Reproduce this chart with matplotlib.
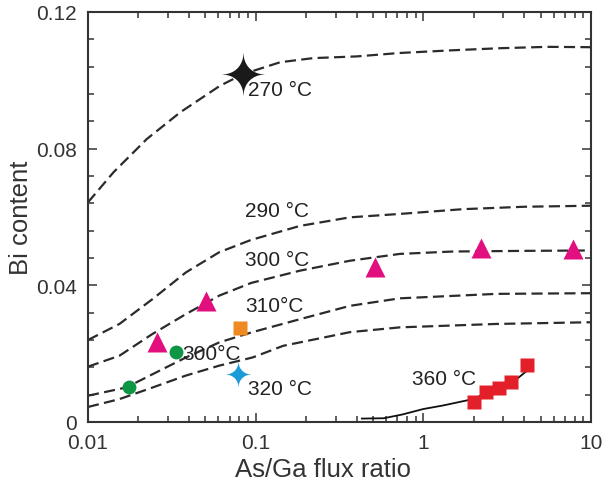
import numpy as np
import matplotlib
matplotlib.use("Agg")
import matplotlib.pyplot as plt
from matplotlib.path import Path
from matplotlib.ticker import AutoMinorLocator, FixedLocator, FixedFormatter

plt.rcParams['font.family'] = ['Liberation Sans', 'DejaVu Sans']

# growth-model curves (Bi content vs As/Ga flux ratio)
x_270 = [0.01, 0.0142, 0.0224, 0.0354, 0.0612, 0.084, 0.14, 0.22, 0.4, 0.72, 1.5, 2.86, 5.5, 10]
y_270 = [0.0643, 0.0731, 0.0828, 0.0906, 0.0984, 0.1018, 0.1053, 0.1065, 0.1070, 0.1080,
         0.1088, 0.1094, 0.1098, 0.1097]

x_290 = [0.01, 0.0154, 0.0243, 0.0384, 0.0607, 0.094, 0.184, 0.365, 0.725, 1.73, 4.0, 10]
y_290 = [0.0240, 0.0287, 0.0360, 0.0438, 0.0497, 0.0533, 0.0574, 0.0599, 0.0609, 0.0623,
         0.0630, 0.0633]

x_300 = [0.01, 0.0154, 0.0243, 0.0384, 0.0607, 0.094, 0.184, 0.365, 0.725, 1.5, 4.3, 10]
y_300 = [0.0162, 0.0194, 0.0258, 0.0316, 0.0370, 0.0407, 0.0443, 0.0472, 0.0492, 0.0499,
         0.0501, 0.0502]

x_310 = [0.01, 0.0169, 0.0243, 0.0384, 0.0607, 0.094, 0.184, 0.365, 0.725, 2.73, 10]
y_310 = [0.0077, 0.0101, 0.0140, 0.0189, 0.0233, 0.0262, 0.0301, 0.0340, 0.0362, 0.0375, 0.0377]

x_320 = [0.01, 0.0154, 0.0243, 0.0384, 0.0607, 0.096, 0.146, 0.365, 0.725, 2.73, 10]
y_320 = [0.0044, 0.0067, 0.0101, 0.0136, 0.0165, 0.0189, 0.0223, 0.0263, 0.0277, 0.0287, 0.0292]

x_360 = [0.43, 0.58, 0.75, 1.0, 1.3, 1.89, 2.35, 2.84, 3.35, 4.2]
y_360 = [0.0010, 0.0011, 0.0022, 0.0038, 0.0048, 0.0065, 0.0082, 0.0095, 0.0113, 0.0152]

# measured samples
tri_x = [0.0257, 0.0506, 0.514, 2.2, 7.84]
tri_y = [0.0233, 0.0355, 0.0453, 0.0508, 0.0506]
green_x = [0.0175, 0.0335]
green_y = [0.0101, 0.0204]
orange_x = [0.0806]
orange_y = [0.0275]
blue_x = [0.0782]
blue_y = [0.0140]
black_x = [0.0843]
black_y = [0.1018]
red_x = [2.01, 2.35, 2.84, 3.35, 4.17]
red_y = [0.0058, 0.0087, 0.0099, 0.0118, 0.0168]

# curve labels: (text, x, y)
labels = [("270 °C", 0.090, 0.0972), ("290 °C", 0.086, 0.0618), ("300 °C", 0.086, 0.0477),
          ("310°C", 0.087, 0.0340), ("300°C", 0.0367, 0.0201), ("320 °C", 0.0905, 0.0097),
          ("360 °C", 0.86, 0.0126)]

xticks = [0.01, 0.1, 1, 10]
xticklabels = ["0.01", "0.1", "1", "10"]
yticks = [0, 0.04, 0.08, 0.12]
yticklabels = ["0", "0.04", "0.08", "0.12"]


def sparkle(p=0.5, n=60):
    # four-pointed star with concave sides
    t = np.linspace(0, 2 * np.pi, 4 * n, endpoint=False)
    c, s = np.cos(t), np.sin(t)
    r = 1.0 / (np.abs(c) ** p + np.abs(s) ** p) ** (1.0 / p)
    verts = np.column_stack([r * c, r * s])
    verts = np.vstack([verts, verts[:1]])
    codes = [Path.MOVETO] + [Path.LINETO] * (len(verts) - 2) + [Path.CLOSEPOLY]
    return Path(verts, codes)


star = sparkle(0.55)
ink = "#2b2b2b"

fig = plt.figure(figsize=(6.03, 4.89), dpi=100)
ax = fig.add_axes([88 / 603, 1 - 423 / 489, 503 / 603, 410 / 489])

dash = dict(color=ink, lw=1.6, dashes=(5, 2.4))
for xs, ys in [(x_270, y_270), (x_290, y_290), (x_300, y_300), (x_310, y_310), (x_320, y_320)]:
    ax.plot(xs, ys, **dash)
ax.plot(x_360, y_360, color="#111111", lw=1.3)

ax.plot(tri_x, tri_y, ls="none", marker="^", ms=14.5, color="#e2107f", mec="none")
ax.plot(green_x, green_y, ls="none", marker="o", ms=10, color="#0e9647", mec="none")
ax.plot(orange_x, orange_y, ls="none", marker="s", ms=9.5, color="#ef8a22", mec="none")
ax.plot(red_x, red_y, ls="none", marker="s", ms=9.5, color="#e3202a", mec="none")
ax.plot(blue_x, blue_y, ls="none", marker=star, ms=19, color="#1b9ad8", mec="none")
ax.plot(black_x, black_y, ls="none", marker=star, ms=31, color="#1a1a1a", mec="none")

for txt, lx, ly in labels:
    ax.text(lx, ly, txt, fontsize=15, color="#222222", ha="left", va="center")

ax.set_xscale("log")
ax.set_xlim(0.01, 10)
ax.set_ylim(0, 0.12)
ax.xaxis.set_major_locator(FixedLocator(xticks))
ax.xaxis.set_major_formatter(FixedFormatter(xticklabels))
ax.yaxis.set_major_locator(FixedLocator(yticks))
ax.yaxis.set_major_formatter(FixedFormatter(yticklabels))
ax.yaxis.set_minor_locator(AutoMinorLocator(5))

ax.tick_params(which="both", direction="in", top=True, right=True, color="#333333",
               width=1.1, labelsize=15, labelcolor="#333333")
ax.tick_params(which="major", length=6.5, pad=8)
ax.tick_params(which="minor", length=4.3)
for sp in ax.spines.values():
    sp.set_linewidth(1.5)
    sp.set_color("#333333")

ax.set_xlabel("As/Ga flux ratio", fontsize=18.5, color="#333333")
ax.set_ylabel("Bi content", fontsize=18.5, color="#333333")
ax.xaxis.set_label_coords(0.467, -0.086)
ax.yaxis.set_label_coords(-0.11, 0.5)

fig.savefig("out.png", dpi=100)
